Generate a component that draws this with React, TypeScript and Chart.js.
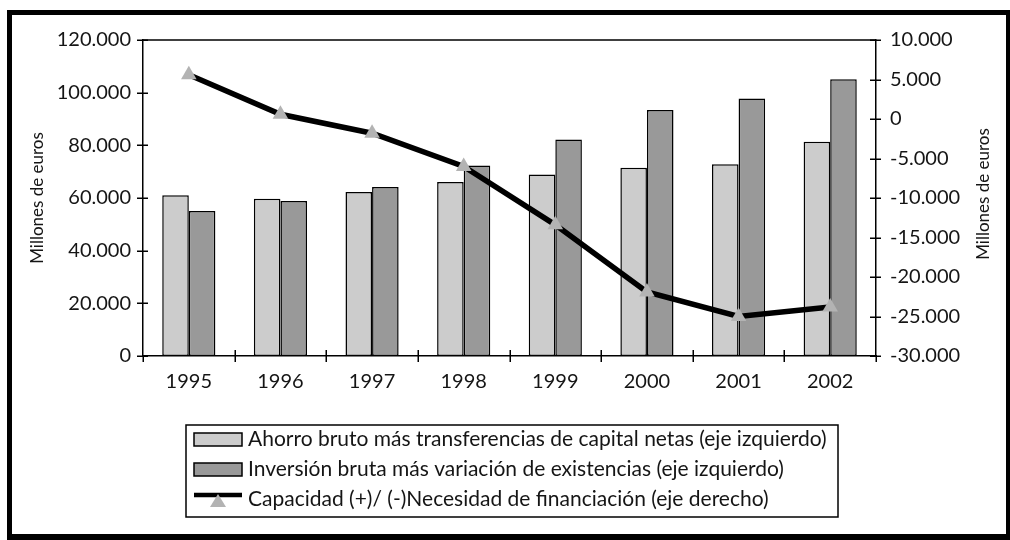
import React, { useEffect, useRef } from 'react';
import { Chart, registerables } from 'chart.js';

Chart.register(...registerables);

const categories = ['1995', '1996', '1997', '1998', '1999', '2000', '2001', '2002'];
const ahorro = [61000, 59700, 62300, 66100, 68900, 71500, 72800, 81400];
const inversion = [55100, 58900, 64200, 72300, 82200, 93400, 97800, 105100];
const capacidad = [5600, 600, -1800, -6000, -13400, -21900, -25000, -23800];

const labelAhorro = 'Ahorro bruto más transferencias de capital netas (eje izquierdo)';
const labelInversion = 'Inversión bruta más variación de existencias (eje izquierdo)';
const labelCapacidad = 'Capacidad (+)/ (-)Necesidad de financiación (eje derecho)';
const axisTitle = 'Millones de euros';

const FONT = 'Lato';
const TEXT = '#151515';

function fmt(v: number): string {
  const s = Math.abs(Math.round(v)).toString().replace(/\B(?=(\d{3})+(?!\d))/g, '.');
  return (v < 0 ? '-' : '') + s;
}

const decorPlugin = {
  id: 'decor',
  afterDraw(chart: any) {
    const { ctx, chartArea: ca, scales } = chart;
    const W = chart.width;
    const H = chart.height;
    ctx.save();
    ctx.strokeStyle = '#000';
    ctx.lineWidth = 1.5;
    // top frame line of plot area
    ctx.beginPath();
    ctx.moveTo(ca.left, ca.top);
    ctx.lineTo(ca.right, ca.top);
    ctx.stroke();
    // left ticks
    const yl = scales.y;
    yl.ticks.forEach((t: any) => {
      const y = Math.round(yl.getPixelForValue(t.value)) + 0.25;
      ctx.beginPath();
      ctx.moveTo(ca.left - 6, y);
      ctx.lineTo(ca.left + 5, y);
      ctx.stroke();
    });
    // right ticks
    const yr = scales.y1;
    yr.ticks.forEach((t: any) => {
      const y = Math.round(yr.getPixelForValue(t.value)) + 0.25;
      ctx.beginPath();
      ctx.moveTo(ca.right - 6, y);
      ctx.lineTo(ca.right + 5, y);
      ctx.stroke();
    });
    // x ticks between categories
    const xs = scales.x;
    const n = categories.length;
    for (let i = 0; i <= n; i++) {
      let x: number;
      if (i === 0) x = ca.left;
      else if (i === n) x = ca.right;
      else x = (xs.getPixelForValue(i - 1) + xs.getPixelForValue(i)) / 2;
      x = Math.round(x) + 0.25;
      ctx.beginPath();
      ctx.moveTo(x, ca.bottom - (i === 0 || i === n ? 0 : 6));
      ctx.lineTo(x, ca.bottom + 6);
      ctx.stroke();
    }
    // axis titles
    ctx.fillStyle = TEXT;
    ctx.font = `17px ${FONT}`;
    ctx.textAlign = 'center';
    ctx.textBaseline = 'middle';
    ctx.save();
    ctx.translate(37.5, (ca.top + ca.bottom) / 2);
    ctx.rotate(-Math.PI / 2);
    ctx.fillText(axisTitle, 0, 0);
    ctx.restore();
    ctx.save();
    ctx.translate(984, (ca.top + ca.bottom) / 2 - 4);
    ctx.rotate(-Math.PI / 2);
    ctx.fillText(axisTitle, 0, 0);
    ctx.restore();

    // legend
    const ds = chart.data.datasets;
    const lx = 186, ly = 425, lw = 652, lh = 92;
    ctx.lineWidth = 1.5;
    ctx.strokeStyle = '#000';
    ctx.strokeRect(lx, ly, lw, lh);
    ctx.font = `21px ${FONT}`;
    ctx.textAlign = 'left';
    ctx.textBaseline = 'alphabetic';
    const baselines = [446, 476, 506];
    const swX = 194, swW = 48;
    // bar swatches
    [0, 1].forEach((k) => {
      const b = baselines[k];
      ctx.fillStyle = ds[k].backgroundColor;
      ctx.fillRect(swX, b - 13, swW, 13);
      ctx.lineWidth = 1.5;
      ctx.strokeStyle = '#000';
      ctx.strokeRect(swX, b - 13, swW, 13);
      ctx.fillStyle = TEXT;
      ctx.fillText(ds[k].label, 248, b);
    });
    // line swatch
    {
      const b = baselines[2];
      const ly2 = b - 11;
      ctx.strokeStyle = ds[2].borderColor;
      ctx.lineWidth = 4.5;
      ctx.beginPath();
      ctx.moveTo(swX, ly2);
      ctx.lineTo(swX + swW, ly2);
      ctx.stroke();
      const cx = swX + swW / 2;
      ctx.fillStyle = ds[2].pointBackgroundColor;
      ctx.beginPath();
      ctx.moveTo(cx, ly2 - 1);
      ctx.lineTo(cx + 8, ly2 + 12);
      ctx.lineTo(cx - 8, ly2 + 12);
      ctx.closePath();
      ctx.fill();
      ctx.fillStyle = TEXT;
      ctx.fillText(ds[2].label, 248, b);
    }

    // outer frame
    ctx.fillStyle = '#000';
    ctx.fillRect(7, 10, W - 7, 5);
    ctx.fillRect(7, 10, 5, H - 10);
    ctx.fillRect(W - 4, 10, 4, H - 10);
    ctx.fillRect(7, H - 6, W - 7, 6);
    ctx.restore();
  },
};

export default function App() {
  const ref = useRef<HTMLCanvasElement>(null);
  useEffect(() => {
    if (!ref.current) return;
    const chart = new Chart(ref.current, {
      type: 'bar',
      data: {
        labels: categories,
        datasets: [
          {
            type: 'bar',
            label: labelAhorro,
            data: ahorro,
            backgroundColor: '#cccccc',
            borderColor: '#000000',
            borderWidth: 1.5,
            borderSkipped: false,
            yAxisID: 'y',
            order: 2,
            barPercentage: 1,
            categoryPercentage: 0.58,
          },
          {
            type: 'bar',
            label: labelInversion,
            data: inversion,
            backgroundColor: '#999999',
            borderColor: '#000000',
            borderWidth: 1.5,
            borderSkipped: false,
            yAxisID: 'y',
            order: 2,
            barPercentage: 1,
            categoryPercentage: 0.58,
          },
          {
            type: 'line',
            label: labelCapacidad,
            data: capacidad,
            borderColor: '#000000',
            borderWidth: 5.5,
            tension: 0,
            pointStyle: 'triangle',
            pointRadius: 9,
            pointBackgroundColor: '#b3b3b3',
            pointBorderWidth: 0,
            yAxisID: 'y1',
            order: 0,
          } as any,
        ],
      },
      options: {
        responsive: false,
        animation: false,
        layout: { padding: { top: 40, left: 0, right: 0, bottom: 0 } },
        plugins: { legend: { display: false }, tooltip: { enabled: false } },
        scales: {
          x: {
            position: 'bottom',
            grid: { display: false, drawTicks: false },
            border: { display: true, color: '#000', width: 1.5 },
            ticks: { font: { family: FONT, size: 20 }, color: TEXT, padding: 14, maxRotation: 0 },
            afterFit: (s: any) => { s.height = 184; },
          },
          y: {
            position: 'left',
            min: 0,
            max: 120000,
            grid: { display: false, drawTicks: false },
            border: { display: true, color: '#000', width: 1.5 },
            ticks: {
              stepSize: 20000,
              font: { family: FONT, size: 20 },
              color: TEXT,
              padding: 12,
              callback: (v: any) => fmt(Number(v)),
            },
            afterFit: (s: any) => { s.width = 143; },
          },
          y1: {
            position: 'right',
            min: -30000,
            max: 10000,
            grid: { display: false, drawTicks: false },
            border: { display: true, color: '#000', width: 1.5 },
            ticks: {
              stepSize: 5000,
              font: { family: FONT, size: 20 },
              color: TEXT,
              padding: 14,
              callback: (v: any) => fmt(Number(v)),
            },
            afterFit: (s: any) => { s.width = 134; },
          },
        },
      } as any,
      plugins: [decorPlugin],
    });
    return () => chart.destroy();
  }, []);
  return (
    <div style={{ position: 'fixed', left: 0, top: 0, width: 1010, height: 540, background: '#fff' }}>
      <canvas ref={ref} width={1010} height={540} style={{ display: 'block', width: 1010, height: 540 }} />
    </div>
  );
}
